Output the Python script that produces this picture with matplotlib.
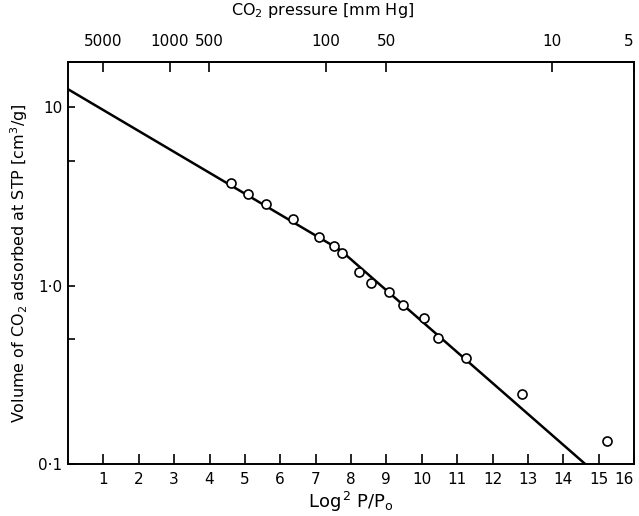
import numpy as np
import matplotlib
matplotlib.use("Agg")
import matplotlib.pyplot as plt
from matplotlib.ticker import FixedLocator, NullFormatter

# ---- data ----
x_points = [4.62, 5.10, 5.59, 6.36, 7.09, 7.53, 7.74, 8.23, 8.56, 9.08,
            9.47, 10.06, 10.47, 11.24, 12.84, 15.23]
v_points = [3.76, 3.25, 2.88, 2.36, 1.87, 1.66, 1.53, 1.19, 1.04, 0.92,
            0.776, 0.656, 0.508, 0.391, 0.248, 0.134]

line_x = [0.0, 7.7, 14.62]
line_v = [12.6, 1.58, 0.10]

bottom_ticks = list(range(1, 17))
y_major = [0.1, 1.0, 10]
y_major_labels = ["0·1", "1·0", "10"]
y_minor = [0.5, 5]

top_pressures = [5000, 1000, 500, 100, 50, 10, 5]
top_labels = ["5000", "1000", "500", "100", "50", "10", "5"]
log_p0 = 4.698  # log10 of saturation pressure (mm Hg)

plt.rcParams['font.family'] = ['DejaVu Sans']

fig = plt.figure(figsize=(6.39, 5.16), dpi=100)
ax = fig.add_axes([68/639, 1 - 464/516, (634-68)/639, (464-62)/516])

ax.plot(line_x, line_v, color='black', lw=1.8, zorder=2)
ax.plot(x_points, v_points, linestyle='none', marker='o', ms=6.5,
        mfc='white', mec='black', mew=1.2, zorder=3)

ax.set_yscale('log')
ax.set_xlim(0, 16)
ax.set_ylim(0.1, 17.9)

ax.set_xticks(bottom_ticks)
ax.set_xticklabels([str(t) for t in bottom_ticks])
ax.yaxis.set_major_locator(FixedLocator(y_major))
ax.set_yticklabels(y_major_labels)
ax.yaxis.set_minor_locator(FixedLocator(y_minor))
ax.yaxis.set_minor_formatter(NullFormatter())

ax.tick_params(axis='x', direction='in', length=7, width=1.2, labelsize=11, pad=6)
ax.tick_params(axis='y', which='major', direction='in', length=5, width=1.2, labelsize=11, pad=4)
ax.tick_params(axis='y', which='minor', direction='in', length=5, width=1.2)
ax.get_xticklabels()[-1].set_horizontalalignment('right')

for s in ax.spines.values():
    s.set_linewidth(1.4)

# top pressure axis
top_pos = [(log_p0 - np.log10(p)) ** 2 for p in top_pressures]
sec = ax.secondary_xaxis('top')
sec.set_xticks(top_pos)
sec.set_xticklabels(top_labels)
sec.tick_params(direction='in', length=7, width=1.2, labelsize=11, pad=9)
sec.spines['top'].set_linewidth(1.4)
sec.get_xticklabels()[-1].set_horizontalalignment('right')

ax.text(0.45, 1.105, "CO$_2$ pressure [mm Hg]", transform=ax.transAxes,
        ha='center', va='bottom', fontsize=11.5)

ax.set_xlabel("Log$^{\\,2}$ P/P$_\\mathrm{o}$", fontsize=13, labelpad=2)
ax.set_ylabel("Volume of CO$_2$ adsorbed at STP [cm$^3$/g]", fontsize=11.5, labelpad=6)

fig.savefig("out.png", dpi=100)
